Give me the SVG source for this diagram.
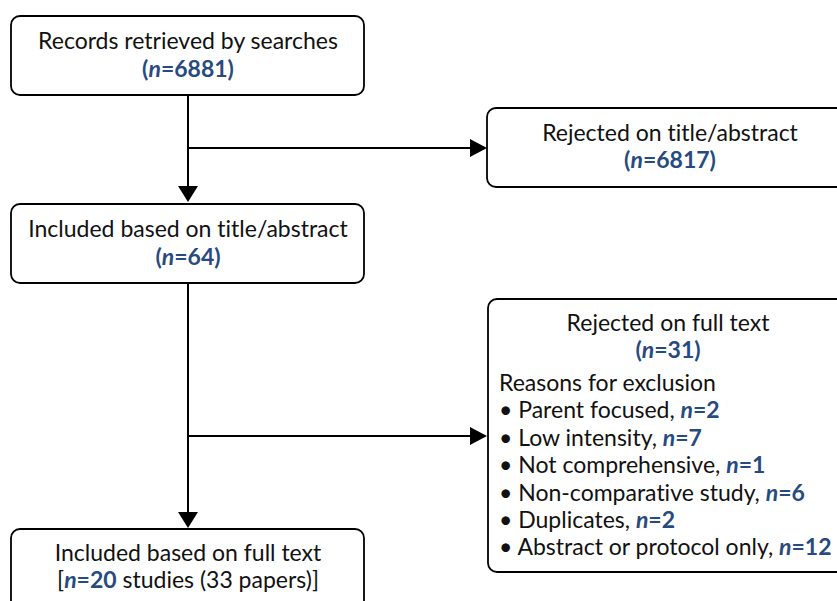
<svg xmlns="http://www.w3.org/2000/svg" width="837" height="601" viewBox="0 0 837 601">
<defs>
<style>
.box{fill:#fff;stroke:#000;stroke-width:1.8}
.t{font-family:Lato,"Liberation Sans",sans-serif;font-size:23px;fill:#111;font-variant-ligatures:none}
.c{text-anchor:middle}
.b{fill:#274b80;font-weight:bold}
.i{font-style:italic}
.ln{stroke:#000;stroke-width:2;fill:none}
</style>
</defs>
<rect width="837" height="601" fill="#fff"/>
<g id="connectors">
<path class="ln" d="M188,96 V186"/>
<path d="M178,186 L198,186 L188,202 Z" fill="#000"/>
<path class="ln" d="M188,148 H470"/>
<path d="M470,139 L470,157 L487,148 Z" fill="#000"/>
<path class="ln" d="M188,283 V512"/>
<path d="M178,512 L198,512 L188,528 Z" fill="#000"/>
<path class="ln" d="M188,436 H470"/>
<path d="M470,427 L470,445 L487,436 Z" fill="#000"/>
</g>
<g id="n1">
<rect class="box" x="11" y="16" width="353" height="79" rx="9"/>
<text class="t c" x="188" y="49">Records retrieved by searches</text>
<text class="t c b" x="188" y="77">(<tspan class="i">n</tspan>=6881)</text>
</g>
<g id="n2">
<rect class="box" x="487" y="108" width="365" height="79" rx="9"/>
<text class="t c" x="670" y="141">Rejected on title/abstract</text>
<text class="t c b" x="670" y="168">(<tspan class="i">n</tspan>=6817)</text>
</g>
<g id="n3">
<rect class="box" x="11" y="204" width="353" height="79" rx="9"/>
<text class="t c" x="188" y="237">Included based on title/abstract</text>
<text class="t c b" x="188" y="265">(<tspan class="i">n</tspan>=64)</text>
</g>
<g id="n4">
<rect class="box" x="488" y="299" width="364" height="273" rx="9"/>
<text class="t c" x="668" y="331">Rejected on full text</text>
<text class="t c b" x="668" y="358">(<tspan class="i">n</tspan>=31)</text>
<text class="t" x="499" y="391">Reasons for exclusion</text>
<text class="t" x="499" y="418">• Parent focused, <tspan class="b"><tspan class="i">n</tspan>=2</tspan></text>
<text class="t" x="499" y="446">• Low intensity, <tspan class="b"><tspan class="i">n</tspan>=7</tspan></text>
<text class="t" x="499" y="473">• Not comprehensive, <tspan class="b"><tspan class="i">n</tspan>=1</tspan></text>
<text class="t" x="499" y="501">• Non-comparative study, <tspan class="b"><tspan class="i">n</tspan>=6</tspan></text>
<text class="t" x="499" y="528">• Duplicates, <tspan class="b"><tspan class="i">n</tspan>=2</tspan></text>
<text class="t" x="499" y="555">• Abstract or protocol only, <tspan class="b"><tspan class="i">n</tspan>=12</tspan></text>
</g>
<g id="n5">
<rect class="box" x="11" y="529" width="353" height="90" rx="9"/>
<text class="t c" x="188" y="561">Included based on full text</text>
<text class="t c" x="188" y="588">[<tspan class="b"><tspan class="i">n</tspan>=20</tspan> studies (33 papers)]</text>
</g>
</svg>
